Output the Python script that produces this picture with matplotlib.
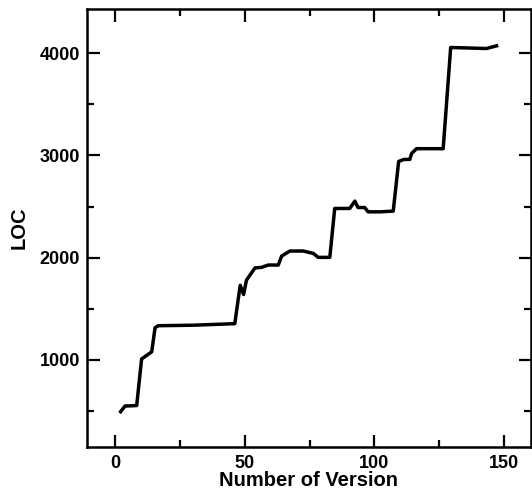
# LOC growth over versions
import matplotlib
matplotlib.use('Agg')
import matplotlib.pyplot as plt
from matplotlib.ticker import MultipleLocator

versions = [2, 3.7, 8.2, 10.1, 14, 15.3, 16.5, 30, 46.1, 47.4, 48.2, 49.5, 50.6,
            53.9, 56.4, 59, 62.9, 64.2, 67.4, 72.5, 76.4, 78.3, 82.8, 84.7, 90.5,
            92.5, 93.7, 96.3, 97.6, 102.1, 107.3, 109.4, 111.4, 113.7, 114.4,
            116.3, 126.6, 129.5, 143.3, 147.2]
loc = [495, 550, 555, 1010, 1080, 1315, 1335, 1340, 1355, 1590, 1730, 1640, 1780,
       1900, 1905, 1928, 1928, 2016, 2065, 2065, 2042, 2003, 2003, 2481, 2481,
       2553, 2490, 2490, 2448, 2448, 2455, 2940, 2960, 2960, 3018,
       3065, 3065, 4054, 4044, 4070]

plt.rcParams['font.family'] = ['Liberation Sans', 'DejaVu Sans']
plt.rcParams['font.weight'] = 'bold'

fig = plt.figure(figsize=(5.32, 4.90), dpi=100)
ax = fig.add_axes([0.1635, 0.0878, 0.8345, 0.8938])

ax.plot(versions, loc, color='black', lw=2.5, solid_joinstyle='round')

ax.set_xlim(-11, 160.5)
ax.set_ylim(150, 4430)
ax.xaxis.set_major_locator(MultipleLocator(50))
ax.xaxis.set_minor_locator(MultipleLocator(25))
ax.yaxis.set_major_locator(MultipleLocator(1000))
ax.yaxis.set_minor_locator(MultipleLocator(500))

ax.tick_params(which='both', direction='in', top=True, right=True, width=1.6)
ax.tick_params(which='major', length=9, labelsize=13)
ax.tick_params(which='minor', length=5)
ax.tick_params(axis='x', pad=6)
ax.tick_params(axis='y', pad=5)
for s in ax.spines.values():
    s.set_linewidth(1.8)

ax.set_xlabel('Number of Version', fontsize=14.5, fontweight='bold', labelpad=-1)
ax.set_ylabel('LOC', fontsize=14.5, fontweight='bold', labelpad=8)

fig.savefig('out.png', dpi=100)
